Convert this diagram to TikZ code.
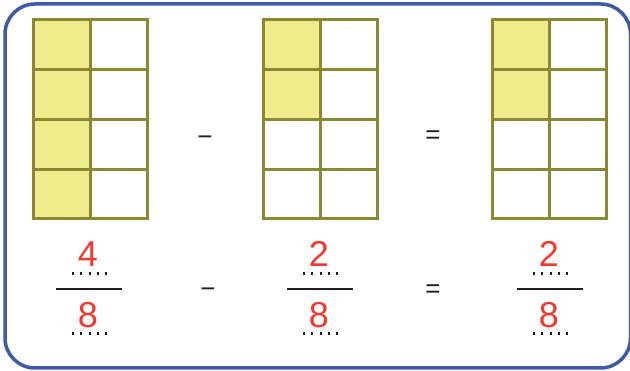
\documentclass[tikz,border=0pt]{standalone}
\usepackage{fontspec}
\setsansfont{Liberation Sans}
\usepackage{tikz}
\definecolor{cFrame}{HTML}{3F5AA8}
\definecolor{cGrid}{HTML}{8A8833}
\definecolor{cShade}{HTML}{F0EC8C}
\definecolor{cDigit}{HTML}{F2392E}
\definecolor{cInk}{HTML}{1E1E1E}
\tikzset{
  frame/.style={draw=cFrame, line width=3.5pt, rounded corners=30pt},
  cellline/.style={draw=cGrid, line width=3pt},
  shaded/.style={fill=cShade},
  opsym/.style={font=\sffamily\fontsize{26}{26}\selectfont, text=cInk, inner sep=0pt},
  digit/.style={font=\sffamily\fontsize{36}{36}\selectfont, text=cDigit, inner sep=0pt, anchor=base},
  fracbar/.style={draw=cInk, line width=2pt},
  blankdots/.style={draw=cInk, line width=1.8pt}
}
\begin{document}
\begin{tikzpicture}[x=1pt, y=-1pt]
\useasboundingbox (0,0) rectangle (630,371);
\fill[white] (0,0) rectangle (630,371);
\draw[frame] (5,4) rectangle (630.5,368);
% three 2x4 grids, left column partly shaded
\foreach \gx/\nshade in {33/4, 263/2, 492/2} {
  \foreach \r in {1,...,\nshade}
    \fill[shaded] (\gx, {20+(\r-1)*49.75}) rectangle ++(57,49.75);
  \draw[cellline] (\gx,20) rectangle ++(114,199);
  \draw[cellline] (\gx+57,20) -- ++(0,199);
  \foreach \r in {1,2,3}
    \draw[cellline] (\gx, {20+\r*49.75}) -- ++(114,0);
}
% operators
\node[opsym] (minusA) at (205,140.5) {−};
\node[opsym] (equalsA) at (433,137) {=};
\node[opsym] (minusB) at (208,292.5) {−};
\node[opsym] (equalsB) at (433,291.5) {=};
% fractions with dotted answer lines
\foreach \cx/\num in {89/4, 320/2, 550/2} {
  \draw[fracbar] (\cx-33,289) -- ++(66,0);
  \node[digit] (num\cx) at (\cx-1,267) {\num};
  \node[digit] (den\cx) at (\cx-1,328) {8};
  \foreach \d in {0,...,4} {
    \draw[blankdots] ({\cx-16+\d*8.3},272) -- ++(0,3);
    \draw[blankdots] ({\cx-16+\d*8.3},332) -- ++(0,3);
  }
}
\end{tikzpicture}
\end{document}
